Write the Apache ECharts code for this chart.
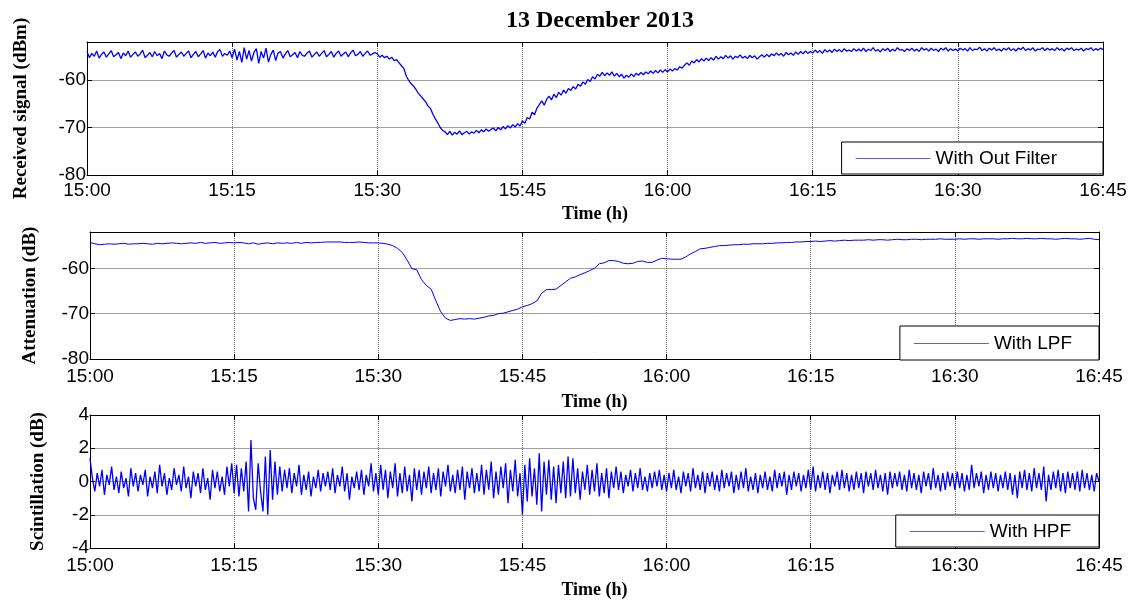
<!DOCTYPE html>
<html><head><meta charset="utf-8">
<script src="https://cdn.jsdelivr.net/npm/echarts@6/dist/echarts.min.js"></script>
<style>html,body{margin:0;padding:0;background:#fff}#c{width:1134px;height:601px}</style>
</head><body><div id="c"></div>
<script>
const chartTitle = '13 December 2013';
const xTickLabels = ['15:00','15:15','15:30','15:45','16:00','16:15','16:30','16:45'];
const xAxisName = 'Time (h)';
const yAxisNames = ['Received signal (dBm)', 'Attenuation (dB)', 'Scintillation (dB)'];
const seriesNames = ['With Out Filter', 'With LPF', 'With HPF'];
const rawStepMin = 0.25;  // sampling of received signal (minutes)
const lpfStepMin = 0.5;   // sampling of LPF (minutes)
const hpfStepMin = 0.25;  // sampling of HPF (minutes)

const receivedSignal = [
-54.0,-55.3,-54.4,-55.0,-53.9,-55.4,-54.6,-54.1,-55.2,-54.5,-53.8,-55.1,-54.7,-54.2,-55.5,-54.3,-54.9,-53.9,-55.2,-54.6,
-54.1,-55.0,-54.5,-53.7,-55.3,-54.8,-54.2,-55.1,-54.0,-54.9,-54.4,-55.5,-53.9,-54.7,-55.0,-54.3,-53.8,-55.2,-54.6,-54.1,
-55.0,-54.4,-53.9,-55.3,-54.6,-54.0,-55.1,-54.5,-53.8,-55.4,-54.3,-54.9,-54.1,-55.2,-54.0,-53.6,-55.0,-54.4,-54.8,-53.9,
-55.3,-53.5,-55.8,-54.0,-56.3,-53.2,-55.6,-53.8,-56.0,-54.2,-53.4,-56.5,-54.0,-55.4,-53.3,-56.2,-54.6,-53.7,-55.9,-54.3,
-54.0,-55.4,-54.5,-53.8,-55.1,-54.7,-54.2,-55.3,-54.0,-54.8,-55.0,-54.3,-53.9,-55.2,-54.6,-54.1,-55.0,-54.4,-53.8,-55.1,
-54.6,-54.0,-55.2,-54.4,-53.9,-55.0,-54.5,-54.1,-55.1,-54.3,-53.7,-54.9,-54.6,-54.0,-55.0,-54.4,-53.9,-54.8,-54.5,-54.2,
-54.5,-55.2,-54.8,-55.3,-55.0,-55.6,-55.2,-55.9,-55.7,-56.4,-57.0,-57.6,-59.2,-60.1,-60.8,-61.3,-62.0,-62.8,-63.4,-64.0,
-64.6,-65.5,-66.0,-67.2,-68.2,-69.0,-70.0,-70.6,-70.9,-71.5,-70.8,-71.6,-71.0,-71.4,-70.7,-71.5,-71.1,-70.8,-71.4,-70.9,
-71.2,-70.6,-71.1,-70.5,-70.9,-70.3,-70.8,-70.4,-70.1,-70.7,-70.0,-70.5,-69.8,-70.3,-69.6,-70.1,-69.4,-69.9,-69.2,-69.7,
-68.6,-69.1,-67.9,-68.2,-66.8,-67.3,-65.9,-65.2,-64.4,-65.3,-64.1,-63.4,-64.2,-63.0,-63.7,-62.6,-63.2,-62.1,-62.8,-61.8,
-62.2,-61.4,-61.9,-60.9,-61.3,-60.4,-60.9,-59.9,-60.3,-59.3,-59.8,-58.8,-59.2,-58.4,-59.1,-58.5,-59.0,-58.3,-59.2,-58.6,
-59.3,-58.8,-59.6,-59.0,-59.4,-58.7,-59.3,-58.6,-59.0,-58.4,-58.9,-58.3,-58.7,-58.1,-58.6,-58.0,-58.5,-57.9,-58.4,-57.8,
-58.3,-57.7,-58.1,-57.6,-57.9,-57.2,-57.5,-56.9,-56.4,-56.9,-56.0,-56.4,-55.7,-56.2,-55.5,-56.0,-55.4,-55.9,-55.3,-55.8,
-55.0,-55.6,-55.1,-55.5,-54.8,-55.4,-54.9,-55.6,-55.0,-55.3,-54.7,-55.4,-55.0,-55.5,-54.8,-55.3,-54.9,-55.6,-55.1,-54.7,
-55.2,-54.6,-55.1,-54.5,-54.9,-54.3,-54.8,-54.4,-55.0,-54.2,-54.7,-54.3,-54.8,-54.1,-54.6,-54.0,-54.5,-53.9,-54.4,-54.0,
-54.3,-53.7,-54.2,-53.8,-54.4,-53.6,-54.1,-53.7,-54.2,-53.5,-54.0,-53.6,-54.1,-53.4,-53.9,-53.7,-54.0,-53.4,-53.9,-53.5,
-53.9,-53.3,-54.0,-53.5,-53.8,-53.2,-53.9,-53.6,-54.1,-53.4,-53.8,-53.3,-54.0,-53.5,-53.9,-53.2,-53.7,-53.6,-54.0,-53.4,
-53.8,-53.3,-53.9,-53.5,-54.0,-53.2,-53.7,-53.4,-53.9,-53.3,-53.8,-53.5,-54.0,-53.3,-53.7,-53.2,-53.9,-53.4,-53.8,-53.5,
-53.9,-53.3,-53.7,-53.4,-53.9,-53.2,-53.8,-53.5,-53.6,-53.1,-53.8,-53.4,-53.9,-53.3,-53.7,-53.2,-53.8,-53.5,-53.9,-53.3,
-53.7,-53.2,-53.8,-53.4,-53.9,-53.3,-53.6,-53.1,-53.8,-53.4,-53.7,-53.2,-53.9,-53.5,-53.6,-53.2,-53.8,-53.3,-53.7,-53.4,
-53.8,-53.2,-53.7,-53.4,-53.9,-53.3,-53.6,-53.2,-53.8,-53.5,-53.7,-53.3,-53.9,-53.4,-53.6,-53.2,-53.8,-53.4,-53.7,-53.3,
-53.6
];

const lpfSignal = [
-54.3,-54.6,-54.8,-54.7,-54.6,-54.7,-54.6,-54.5,-54.7,-54.6,
-54.6,-54.5,-54.6,-54.7,-54.5,-54.6,-54.5,-54.4,-54.5,-54.6,
-54.5,-54.4,-54.5,-54.3,-54.5,-54.4,-54.3,-54.5,-54.4,-54.3,
-54.4,-54.3,-54.4,-54.6,-54.4,-54.7,-54.5,-54.4,-54.6,-54.4,
-54.5,-54.4,-54.5,-54.3,-54.5,-54.3,-54.4,-54.3,-54.3,-54.2,
-54.2,-54.2,-54.2,-54.3,-54.3,-54.3,-54.2,-54.3,-54.4,-54.4,
-54.4,-54.5,-54.7,-55.0,-55.6,-56.5,-58.2,-60.1,-60.3,-62.5,
-63.8,-64.6,-67.2,-69.6,-71.0,-71.5,-71.3,-71.1,-71.2,-71.1,
-71.2,-71.0,-70.8,-70.5,-70.4,-70.0,-69.9,-69.6,-69.3,-69.0,
-68.5,-68.2,-67.8,-67.2,-65.5,-64.7,-64.7,-64.6,-63.8,-63.0,
-62.2,-61.9,-61.4,-61.0,-60.5,-60.0,-59.0,-58.8,-58.3,-58.3,
-58.5,-58.9,-59.0,-58.9,-58.5,-58.4,-58.7,-58.7,-58.2,-57.8,
-57.9,-58.0,-58.0,-58.0,-57.5,-56.8,-56.3,-55.7,-55.6,-55.4,
-55.2,-55.0,-55.0,-54.9,-54.8,-54.8,-54.7,-54.7,-54.6,-54.6,
-54.6,-54.5,-54.5,-54.4,-54.4,-54.3,-54.3,-54.2,-54.2,-54.1,
-54.1,-54.0,-54.1,-54.0,-53.9,-54.0,-53.9,-53.8,-53.9,-53.8,
-53.8,-53.8,-53.7,-53.8,-53.7,-53.7,-53.8,-53.7,-53.6,-53.7,
-53.7,-53.6,-53.6,-53.7,-53.6,-53.6,-53.6,-53.5,-53.6,-53.6,
-53.6,-53.5,-53.6,-53.5,-53.5,-53.6,-53.5,-53.5,-53.5,-53.6,
-53.5,-53.5,-53.4,-53.5,-53.5,-53.4,-53.5,-53.5,-53.4,-53.5,
-53.5,-53.6,-53.5,-53.4,-53.5,-53.5,-53.6,-53.5,-53.4,-53.6,
-53.7
];

const hpfSignal = [
1.4,0.2,-0.6,0.5,-0.3,0.7,-0.8,0.4,-0.2,0.9,-0.5,0.3,-0.7,0.6,-0.4,0.2,-0.9,0.8,-0.3,0.5,
-0.6,0.4,-0.2,0.7,-0.9,0.3,-0.4,0.6,-0.7,1.0,-0.3,0.5,-0.8,0.2,-0.5,0.8,-0.2,0.4,-0.6,0.9,
-0.4,0.3,-1.0,0.6,-0.3,0.5,-0.7,0.8,-0.5,0.2,-1.1,0.7,-0.4,0.6,-0.6,0.3,-0.8,0.9,-0.3,1.1,
-0.7,1.0,-0.9,0.8,-0.6,1.2,-1.8,2.5,-1.0,-1.7,1.1,-0.6,-1.8,1.5,-2.0,1.9,-1.1,1.2,-0.8,0.9,
-0.6,0.7,-0.4,0.8,-0.7,0.5,-0.3,1.0,-0.8,0.4,-0.5,0.6,-0.9,0.3,-0.4,0.7,-0.6,0.5,-0.3,0.6,
-0.5,0.8,-0.7,0.4,-0.3,0.9,-0.6,0.5,-1.1,0.3,-0.4,0.6,-0.5,0.7,-0.8,0.4,-0.3,1.1,-0.6,0.5,
-0.8,1.0,-0.5,0.7,-1.0,0.6,-0.4,1.1,-0.9,0.5,-0.7,0.9,-0.6,0.4,-1.2,0.8,-0.5,0.7,-0.8,0.6,
-0.4,0.9,-0.7,0.5,-0.5,0.8,-0.9,0.6,-0.3,1.0,-0.6,0.4,-0.7,0.7,-0.5,0.9,-1.1,0.6,-0.4,0.8,
-0.7,0.5,-0.6,1.0,-0.8,0.7,-0.5,1.2,-1.0,0.6,-0.8,0.9,-0.4,1.1,-1.3,0.7,-0.6,1.3,-0.9,0.5,
-2.0,1.0,-1.2,1.4,-0.9,0.8,-1.4,1.7,-1.8,1.2,-0.8,1.3,-1.1,0.9,-1.3,1.0,-0.7,1.2,-1.0,1.5,
-0.9,1.4,-0.7,0.8,-1.1,0.6,-0.5,1.0,-0.8,0.7,-0.6,1.1,-0.9,0.5,-0.7,0.8,-1.0,0.6,-0.4,0.9,
-0.5,0.6,-0.7,0.4,-0.3,0.7,-0.6,0.5,-0.4,0.8,-0.5,0.3,-0.6,0.5,-0.4,0.6,-0.3,0.7,-0.5,0.4,
-0.6,0.5,-0.4,0.7,-0.5,0.3,-0.7,0.6,-0.3,0.5,-0.6,0.8,-0.4,0.4,-0.5,0.6,-0.7,0.5,-0.3,0.6,
-0.5,0.4,-0.6,0.7,-0.4,0.5,-0.3,0.6,-0.7,0.4,-0.5,0.6,-0.4,0.8,-0.6,0.3,-0.5,0.5,-0.7,0.4,
-0.4,0.6,-0.5,0.3,-0.6,0.7,-0.4,0.5,-0.3,0.6,-0.8,0.4,-0.5,0.6,-0.3,0.5,-0.6,0.4,-0.4,0.7,
-0.5,0.9,-0.6,0.4,-0.4,0.6,-0.5,0.5,-0.7,0.4,-0.3,0.6,-0.5,0.7,-0.4,0.5,-0.6,0.4,-0.5,0.6,
-0.4,0.5,-0.7,0.6,-0.3,0.5,-0.5,0.7,-0.4,0.4,-0.6,0.5,-0.8,0.6,-0.4,0.5,-0.3,0.6,-0.5,0.4,
-0.6,0.7,-0.4,0.5,-0.5,0.4,-0.7,0.6,-0.3,0.5,-0.5,0.8,-0.4,0.4,-0.6,0.5,-0.5,0.6,-0.3,0.5,
-0.5,0.6,-0.4,0.5,-0.6,0.4,-0.5,1.0,-0.4,0.5,-0.3,0.6,-0.7,0.4,-0.5,0.6,-0.4,0.5,-0.6,0.4,
-0.4,0.6,-0.5,0.5,-0.8,0.4,-1.0,0.6,-0.4,0.7,-0.5,0.5,-0.6,0.8,-0.4,0.5,-0.5,0.9,-1.2,0.4,
-0.5,0.6,-0.4,0.7,-0.6,0.5,-0.7,0.6,-0.4,0.5,-0.5,0.6,-0.6,0.7,-0.4,0.5,-0.5,0.4,-0.6,0.5,
0.0
];

const SANS = "'Liberation Sans', Arial, sans-serif";
const SERIF = "'Liberation Serif', 'Times New Roman', serif";

const grids = [
  {left: 87, right: 31, top: 42, height: 133},
  {left: 90, right: 35, top: 232, height: 127},
  {left: 90, right: 35, top: 415, height: 133}
];
const yRanges = [
  {min: -80, max: -52, interval: 10},
  {min: -80, max: -52, interval: 10},
  {min: -4, max: 4, interval: 2}
];
const yNameGaps = [56, 50, 42];
const xLabelMargins = [6, 8, 8];
const xNameGaps = [30, 34, 33];

const xAxes = [], yAxes = [];
for (let g = 0; g < 3; g++) {
  xAxes.push({
    type: 'value', gridIndex: g, min: 0, max: 105, interval: 15,
    axisLine: {show: true, onZero: false, lineStyle: {color: '#000', width: 1}},
    axisTick: {show: true, inside: true, length: 5, lineStyle: {color: '#000'}},
    axisLabel: {color: '#000', fontSize: 19, fontFamily: SANS, margin: xLabelMargins[g],
      formatter: v => xTickLabels[Math.round(v / 15)] || ''},
    splitLine: {show: true, lineStyle: {color: '#666', type: 'dotted', width: 1}},
    name: xAxisName, nameLocation: 'middle', nameGap: xNameGaps[g],
    nameTextStyle: {color: '#000', fontSize: 18, fontWeight: 'bold', fontFamily: SERIF}
  });
  xAxes.push({
    type: 'value', gridIndex: g, min: 0, max: 105, interval: 15, position: 'top',
    axisLine: {show: true, onZero: false, lineStyle: {color: '#000', width: 1}},
    axisTick: {show: true, inside: true, length: 5, lineStyle: {color: '#000'}},
    axisLabel: {show: false}, splitLine: {show: false}
  });
  const yr = yRanges[g];
  yAxes.push({
    type: 'value', gridIndex: g, min: yr.min, max: yr.max, interval: yr.interval,
    axisLine: {show: true, onZero: false, lineStyle: {color: '#000', width: 1}},
    axisTick: {show: true, inside: true, length: 5, lineStyle: {color: '#000'}},
    axisLabel: {color: '#000', fontSize: 19, fontFamily: SANS, margin: 1,
      formatter: v => (Math.round(v) % yr.interval === 0 ? String(v) : '')},
    splitLine: {show: true, lineStyle: {color: '#a0a0a0', width: 1}},
    name: yAxisNames[g], nameLocation: 'middle', nameGap: yNameGaps[g],
    nameTextStyle: {color: '#000', fontSize: 19, fontWeight: 'bold', fontFamily: SERIF}
  });
  yAxes.push({
    type: 'value', gridIndex: g, min: yr.min, max: yr.max, interval: yr.interval, position: 'right',
    axisLine: {show: true, onZero: false, lineStyle: {color: '#000', width: 1}},
    axisTick: {show: true, inside: true, length: 5, lineStyle: {color: '#000'}},
    axisLabel: {show: false}, splitLine: {show: false}
  });
}

function pairs(arr, step) { return arr.map((v, i) => [i * step, v]); }

const seriesData = [pairs(receivedSignal, rawStepMin), pairs(lpfSignal, lpfStepMin), pairs(hpfSignal, hpfStepMin)];
const lineWidths = [1.3, 1, 1.3];

const series = seriesData.map((d, g) => ({
  name: seriesNames[g], type: 'line', xAxisIndex: g * 2, yAxisIndex: g * 2,
  data: d, symbol: 'none', showSymbol: false, silent: true,
  lineStyle: {color: '#0000ff', width: lineWidths[g]}, itemStyle: {color: '#0000ff'}
}));

const legendBoxes = [
  {right: 31, top: 142, padding: [7, 46, 6, 14]},
  {right: 35, top: 326, padding: [8, 27, 7, 14]},
  {right: 35, top: 515, padding: [7, 28, 6, 14]}
];
const legends = legendBoxes.map((b, g) => ({
  data: [{name: seriesNames[g], icon: 'rect'}], right: b.right, top: b.top, padding: b.padding,
  orient: 'horizontal', selectedMode: false,
  backgroundColor: '#fff', borderColor: '#000', borderWidth: 1, borderRadius: 0,
  itemWidth: 75, itemHeight: 1,
  itemStyle: {color: '#5a5aff', borderWidth: 0},
  textStyle: {color: '#000', fontSize: 19, fontFamily: SANS}
}));

const chart = echarts.init(document.getElementById('c'), null, {renderer: 'canvas'});
chart.setOption({
  animation: false,
  backgroundColor: '#fff',
  title: {text: chartTitle, left: 595, top: 4, textAlign: 'center',
    textStyle: {color: '#000', fontSize: 24, fontWeight: 'bold', fontFamily: SERIF}},
  grid: grids,
  xAxis: xAxes,
  yAxis: yAxes,
  legend: legends,
  series: series
});
</script>
</body></html>
